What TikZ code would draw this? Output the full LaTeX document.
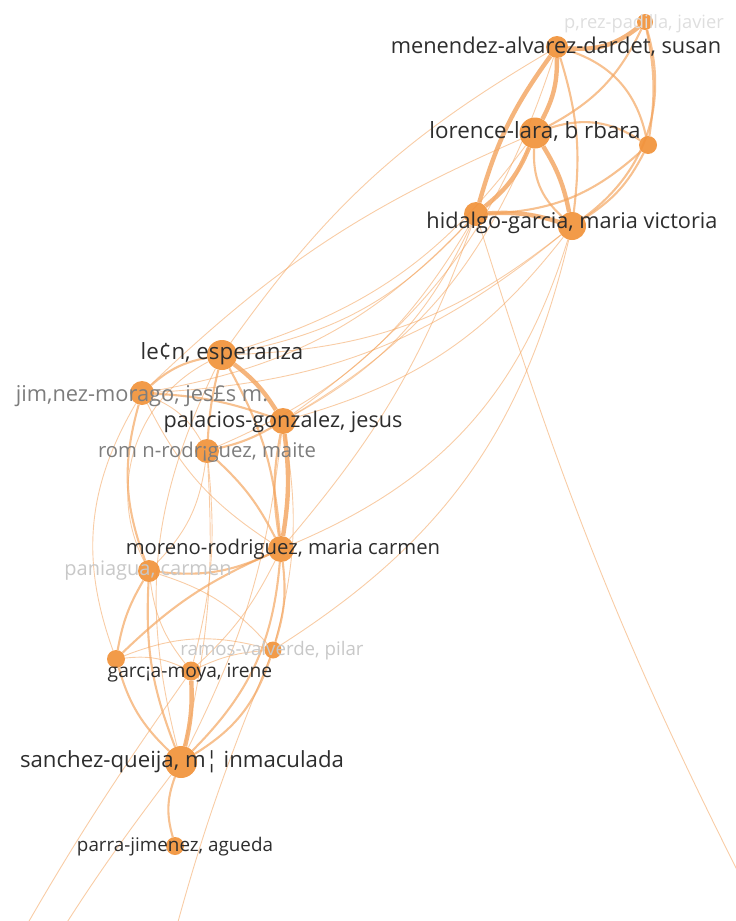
\documentclass[tikz,border=0pt]{standalone}
\usepackage{xcolor}
\usepackage{fontspec}
\setmainfont{Open Sans}
\usepackage{tikz}
\usetikzlibrary{
  positioning,
  backgrounds
}
\definecolor{nodeorange}{RGB}{241,146,58}
\definecolor{linkorange}{RGB}{243,163,92}
\definecolor{labeldark}{RGB}{45,45,45}
\definecolor{labelgrey}{RGB}{125,125,125}
\definecolor{labelpale}{RGB}{200,200,200}
\definecolor{labelfaint}{RGB}{222,222,222}
\newcommand{\lblsize}[1]{\fontsize{#1}{#1}\selectfont}
\tikzset{
  authnode/.style={
    circle, fill=nodeorange, fill opacity=0.92, draw=none,
    inner sep=0pt, minimum size=#1
  },
  authlabel/.style={
    inner sep=0pt, text=labeldark, font=\lblsize{#1}
  },
  greylabel/.style={
    authlabel=#1, text=labelgrey
  },
  palelabel/.style={
    authlabel=#1, text=labelpale
  },
  faintlabel/.style={
    authlabel=#1, text=labelfaint
  },
  linkthin/.style={
    draw=linkorange, line width=0.9pt, draw opacity=0.55, bend left=18
  },
  linkmid/.style={
    draw=linkorange, line width=2.1pt, draw opacity=0.68, bend left=18
  },
  linkthick/.style={
    draw=linkorange, line width=4.4pt, draw opacity=0.8, bend left=14
  }
}

\begin{document}
\begin{tikzpicture}[x=1pt, y=-1pt]
    \clip (0,0) rectangle (736,921);

    % Top cluster
    \node[authnode=16] (perez) at (645,22) {};
    \node[authnode=22] (menendez) at (557,47) {};
    \node[authnode=31] (lorence) at (535,133) {};
    \node[authnode=18] (farright) at (648,145) {};
    \node[authnode=24] (hidalgoleft) at (476,214) {};
    \node[authnode=28] (hidalgo) at (572,226) {};

    % Middle cluster
    \node[authnode=30] (leon) at (222,355) {};
    \node[authnode=24] (jimenez) at (142,393) {};
    \node[authnode=26] (palacios) at (283,421) {};
    \node[authnode=24] (roman) at (207,451) {};
    \node[authnode=26] (moreno) at (281,549) {};
    \node[authnode=22] (paniagua) at (149,571) {};

    % Lower cluster
    \node[authnode=17] (ramos) at (273,650) {};
    \node[authnode=18] (garcialeft) at (116,659) {};
    \node[authnode=19] (garcia) at (191,671) {};
    \node[authnode=32] (sanchez) at (181,762) {};
    \node[authnode=18] (parra) at (175,846) {};

    % Ends of links to authors outside the view
    \coordinate (offse) at (778,950);
    \coordinate (offs) at (160,990);
    \coordinate (offsw) at (-10,990);
    \coordinate (offsw2) at (25,990);

    \begin{scope}[on background layer]
      % top cluster links
      \draw[linkthick] (menendez) to[bend right=22] (perez);
      \draw[linkthick] (menendez) to (lorence);
      \draw[linkthick] (menendez) to[bend right=10] (hidalgoleft);
      \draw[linkthick] (lorence) to (hidalgoleft);
      \draw[linkthick] (lorence) to[bend left=10] (hidalgo);
      \draw[linkthick] (hidalgoleft) to[bend left=10] (hidalgo);
      \draw[linkmid] (perez) to (lorence);
      \draw[linkmid] (perez) to[bend left=10] (farright);
      \draw[linkmid] (perez) to[bend left=35] (hidalgo);
      \draw[linkmid] (menendez) to[bend left=30] (farright);
      \draw[linkmid] (menendez) to[bend left=12] (hidalgo);
      \draw[linkmid] (lorence) to[bend left=25] (farright);
      \draw[linkmid] (farright) to[bend left=15] (hidalgo);
      \draw[linkmid] (farright) to[bend left=20] (hidalgoleft);
      \draw[linkmid] (lorence) to[bend right=25] (hidalgo);

      % links between top and middle clusters
      \draw[linkthin] (hidalgoleft) to (leon);
      \draw[linkthin] (hidalgoleft) to (jimenez);
      \draw[linkthin] (hidalgoleft) to (palacios);
      \draw[linkthin] (hidalgoleft) to (roman);
      \draw[linkthin] (hidalgoleft) to[bend left=10] (moreno);
      \draw[linkthin] (hidalgo) to (leon);
      \draw[linkthin] (hidalgo) to (jimenez);
      \draw[linkthin] (hidalgo) to (palacios);
      \draw[linkthin] (hidalgo) to[bend left=25] (moreno);
      \draw[linkthin] (hidalgo) to[bend left=22] (ramos);
      \draw[linkthin] (lorence) to (leon);
      \draw[linkthin] (lorence) to (palacios);
      \draw[linkthin] (lorence) to[bend right=10] (jimenez);
      \draw[linkthin] (menendez) to[bend right=12] (leon);
      \draw[linkthin] (menendez) to (palacios);
      \draw[linkthin] (hidalgoleft) to[bend right=5] (offse);
      \draw[linkthin] (ramos) to[bend right=4] (offs);
      \draw[linkthin] (garcia) to[bend right=3] (offsw);
      \draw[linkthin] (sanchez) to[bend right=3] (offsw2);

      % middle cluster links
      \draw[linkthick] (leon) to[bend left=10] (palacios);
      \draw[linkthick] (palacios) to[bend left=8] (moreno);
      \draw[linkmid] (leon) to[bend right=15] (jimenez);
      \draw[linkmid] (leon) to[bend right=5] (roman);
      \draw[linkmid] (leon) to[bend left=12] (moreno);
      \draw[linkmid] (jimenez) to[bend left=8] (palacios);
      \draw[linkmid] (palacios) to[bend left=8] (roman);
      \draw[linkmid] (palacios) to[bend right=10] (moreno);
      \draw[linkthin] (leon) to[bend right=45] (paniagua);
      \draw[linkthin] (jimenez) to (roman);
      \draw[linkthin] (jimenez) to[bend right=15] (moreno);
      \draw[linkmid] (jimenez) to[bend right=18] (paniagua);
      \draw[linkthin] (jimenez) to[bend right=25] (garcialeft);
      \draw[linkmid] (roman) to[bend left=10] (moreno);
      \draw[linkthin] (roman) to (paniagua);
      \draw[linkthin] (roman) to[bend left=10] (garcia);
      \draw[linkthin] (roman) to[bend left=8] (sanchez);
      \draw[linkthin] (palacios) to[bend left=10] (sanchez);
      \draw[linkthin] (palacios) to[bend left=12] (ramos);
      \draw[linkthin] (leon) to[bend right=20] (sanchez);

      % lower cluster links
      \draw[linkmid] (moreno) to[bend left=15] (paniagua);
      \draw[linkmid] (moreno) to[bend right=10] (garcialeft);
      \draw[linkthin] (moreno) to[bend left=10] (garcia);
      \draw[linkmid] (moreno) to[bend left=12] (ramos);
      \draw[linkmid] (moreno) to[bend left=20] (sanchez);
      \draw[linkmid] (paniagua) to[bend right=10] (garcialeft);
      \draw[linkthin] (paniagua) to[bend right=15] (garcia);
      \draw[linkmid] (paniagua) to[bend right=12] (sanchez);
      \draw[linkthin] (paniagua) to[bend left=15] (ramos);
      \draw[linkthin] (garcialeft) to[bend left=15] (garcia);
      \draw[linkthin] (garcialeft) to[bend left=18] (ramos);
      \draw[linkmid] (garcialeft) to[bend right=15] (sanchez);
      \draw[linkthick] (garcia) to[bend left=8] (sanchez);
      \draw[linkthin] (garcia) to[bend left=10] (ramos);
      \draw[linkmid] (ramos) to[bend left=20] (sanchez);
      \draw[linkmid] (sanchez) to[bend right=18] (parra);
    \end{scope}

    % Author labels
    \node[faintlabel=18.3] (perez-lbl) at (644,24) {p,rez-padilla, javier};
    \node[authlabel=21.8] (menendez-lbl) at (556,47) {menendez-alvarez-dardet, susan};
    \node[authlabel=22.4] (lorence-lbl) at (535,131) {lorence-lara, b rbara};
    \node[authlabel=21.7] (hidalgo-lbl) at (572,223) {hidalgo-garcia, maria victoria};
    \node[authlabel=22.3] (leon-lbl) at (222,354) {le¢n, esperanza};
    \node[greylabel=21.8] (jimenez-lbl) at (142,396) {jim,nez-morago, jes£s m.};
    \node[authlabel=21.6] (palacios-lbl) at (283,422) {palacios-gonzalez, jesus};
    \node[greylabel=20.3] (roman-lbl) at (207,452) {rom n-rodr¡guez, maite};
    \node[authlabel=20.3] (moreno-lbl) at (283,549) {moreno-rodriguez, maria carmen};
    \node[palelabel=20] (paniagua-lbl) at (148,571) {paniagua, carmen};
    \node[palelabel=18.7] (ramos-lbl) at (272,651) {ramos-valverde, pilar};
    \node[authlabel=19.2] (garcia-lbl) at (190,673) {garc¡a-moya, irene};
    \node[authlabel=22.2] (sanchez-lbl) at (182,762) {sanchez-queija, m¦ inmaculada};
    \node[authlabel=18.8] (parra-lbl) at (175,847) {parra-jimenez, agueda};

\end{tikzpicture}
\end{document}
